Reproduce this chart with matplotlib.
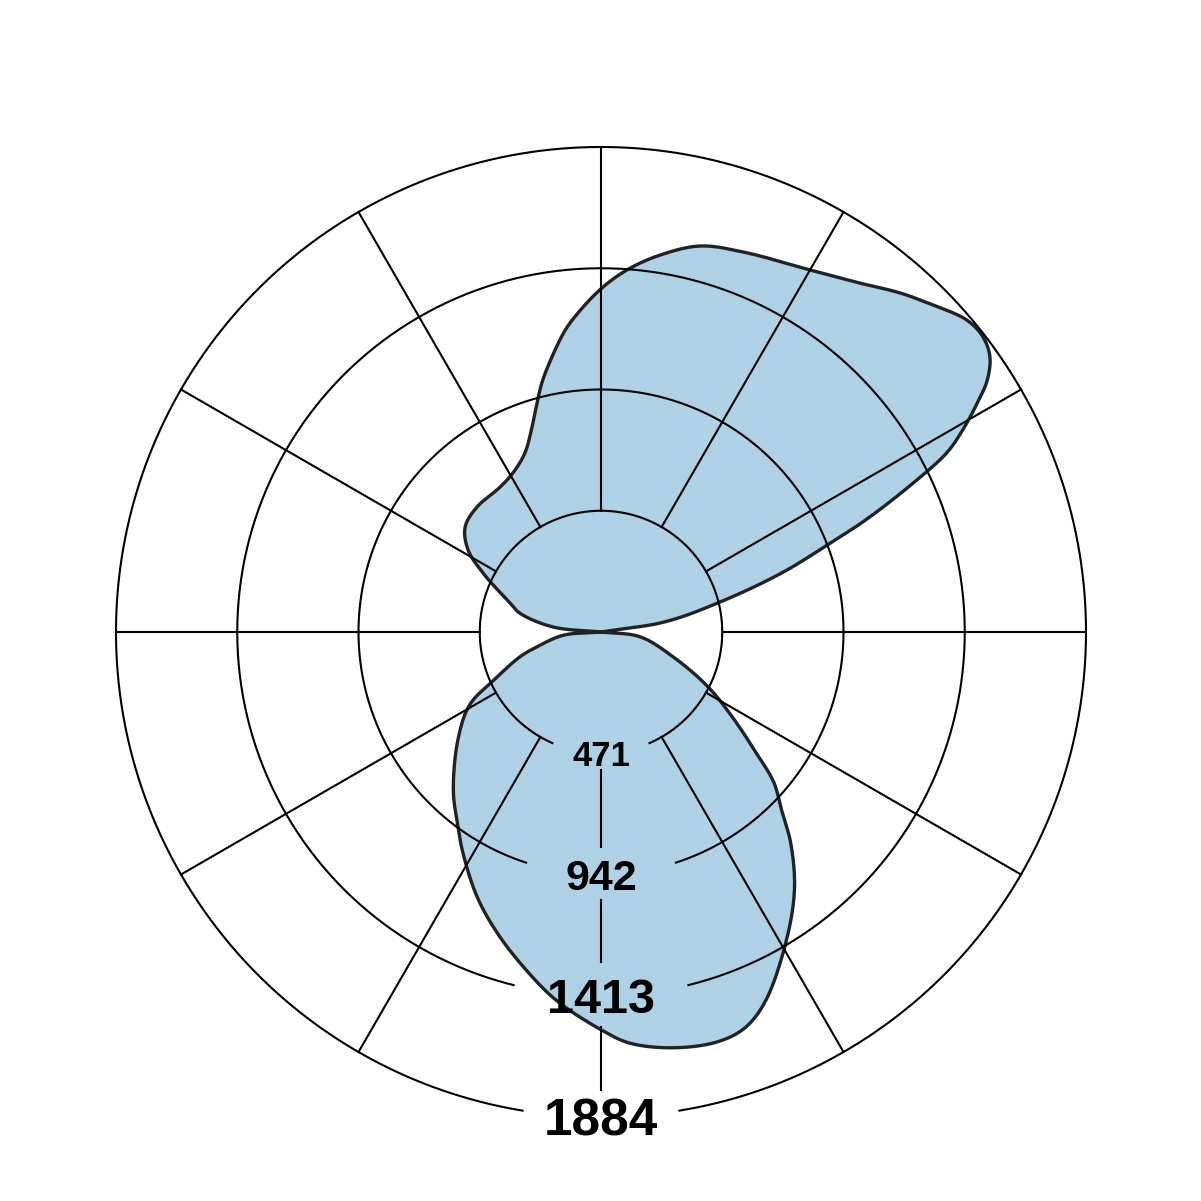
import numpy as np
import matplotlib.pyplot as plt

# Angle (deg, 0 = down, counter-clockwise) and intensity
angles = [0, 4, 10, 16, 20, 24, 31, 37, 42, 45, 49, 52, 57, 63, 71, 83, 90,
          99, 104, 108, 111, 113, 115.5, 117.4, 119.2, 121.3, 123.1, 125.3,
          127.7, 130.4, 134.6, 138.6, 143.4, 150, 159.5, 165.6, 171.1, 175.9,
          180.2, 185.7, 188, 193, 195.5, 198.6, 203, 209, 214.9, 224.8, 232.3,
          238.3, 243.4, 252.3, 257, 264, 270,
          275, 283, 287, 294, 299, 307, 317, 322.5, 328, 335, 341, 347, 353]
intensity = [1545, 1601, 1640, 1655, 1636, 1570, 1398, 1249, 1101, 997, 889, 767, 610, 464, 296, 153, 0,
             250, 470, 732, 941, 1121, 1343, 1513, 1610, 1710, 1791, 1851,
             1875, 1868, 1810, 1756, 1688, 1624, 1576, 1548, 1482, 1410,
             1329, 1207, 1146, 1005, 927, 840, 756, 706, 686, 684, 667,
             607, 513, 371, 323, 188, 0,
             148, 255, 329, 452, 583, 696, 841, 920, 1012, 1137, 1237, 1336, 1440]

ring_values = [471, 942, 1413, 1884]
label_sizes = [25, 31, 35, 37]

# style: half-width of the gaps cut in the rings behind the labels (deg)
ring_gaps = [23.6, 18, 13.9, 9.3]
# style: pieces of the bottom spoke between the labels
spoke_pieces = [(536, 835), (1041, 1282), (1535, 1779)]

fill_color = '#aed1e5'
edge_color = '#222222'
grid_lw = 1.5


def smooth_open(pts, steps=20):
    # centripetal Catmull-Rom through the points (drawing only)
    pts = np.vstack([2 * pts[0] - pts[1], pts, 2 * pts[-1] - pts[-2]])
    out = []
    for i in range(1, len(pts) - 2):
        p0, p1, p2, p3 = pts[i - 1], pts[i], pts[i + 1], pts[i + 2]
        t0 = 0.0
        t1 = t0 + np.linalg.norm(p1 - p0) ** 0.5
        t2 = t1 + np.linalg.norm(p2 - p1) ** 0.5
        t3 = t2 + np.linalg.norm(p3 - p2) ** 0.5
        t = np.linspace(t1, t2, steps, endpoint=False)[:, None]
        a1 = (t1 - t) / (t1 - t0) * p0 + (t - t0) / (t1 - t0) * p1
        a2 = (t2 - t) / (t2 - t1) * p1 + (t - t1) / (t2 - t1) * p2
        a3 = (t3 - t) / (t3 - t2) * p2 + (t - t2) / (t3 - t2) * p3
        b1 = (t2 - t) / (t2 - t0) * a1 + (t - t0) / (t2 - t0) * a2
        b2 = (t3 - t) / (t3 - t1) * a2 + (t - t1) / (t3 - t1) * a3
        out.append((t2 - t) / (t2 - t1) * b1 + (t - t1) / (t2 - t1) * b2)
    out.append(pts[-2][None, :])
    return np.vstack(out)


th = np.radians(angles)
r = np.array(intensity, dtype=float)
xy = np.column_stack([r * np.sin(th), -r * np.cos(th)])

# the curve goes through the centre twice: smooth each lobe separately
z0, z1 = np.flatnonzero(r == 0)
n = len(r)
lobes = [list(range(z0, z1 + 1)), list(range(z1, n)) + list(range(0, z0 + 1))]
curve = np.vstack([smooth_open(xy[idx]) for idx in lobes])
curve_th = np.unwrap(np.arctan2(curve[:, 0], -curve[:, 1]))
curve_r = np.hypot(curve[:, 0], curve[:, 1])

fig = plt.figure(figsize=(12.01, 12.01), dpi=100)
ax = fig.add_axes([116 / 1201, 84 / 1201, 970 / 1201, 970 / 1201], projection='polar')
ax.set_theta_zero_location('S')
ax.set_theta_direction(1)
ax.set_rlim(0, 1884)
ax.grid(False)
ax.set_xticks([])
ax.set_yticks([])
ax.spines['polar'].set_visible(False)

# distribution curve
ax.fill(curve_th, curve_r, color=fill_color, zorder=1, clip_on=False)
ax.plot(curve_th, curve_r, color=edge_color, lw=2.4, zorder=2, clip_on=False,
        solid_joinstyle='round')

# rings with a gap at the bottom for the labels
for rv, gap in zip(ring_values, ring_gaps):
    t = np.radians(np.linspace(gap, 360 - gap, 600))
    ax.plot(t, np.full_like(t, rv), color='black', lw=grid_lw, zorder=3, clip_on=False)

# spokes every 30 degrees, starting at the first ring
for a in range(30, 360, 30):
    ax.plot([np.radians(a)] * 2, [ring_values[0], ring_values[-1]],
            color='black', lw=grid_lw, zorder=3, clip_on=False)
for r0, r1 in spoke_pieces:
    ax.plot([0, 0], [r0, r1], color='black', lw=grid_lw, zorder=3, clip_on=False)

# scale labels
for rv, fs in zip(ring_values, label_sizes):
    ax.text(0, rv, str(rv), ha='center', va='center_baseline', fontsize=fs,
            fontweight='bold', family='Liberation Sans', zorder=4)

fig.savefig('out.png', dpi=100)
